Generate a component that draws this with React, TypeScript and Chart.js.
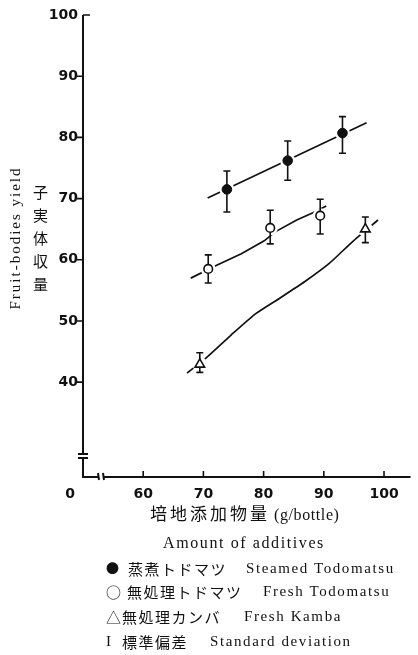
import React, { useEffect, useRef } from "react";
import { Chart, registerables } from "chart.js";
Chart.register(...registerables);

const INK = "#111";

const yTicks = [40, 50, 60, 70, 80, 90, 100];
const xTicks = [60, 70, 80, 90, 100];
const originLabel = "0";

// 蒸煮トドマツ Steamed Todomatsu
const steamedX = [73.9, 84.0, 93.1];
const steamedY = [71.5, 76.2, 80.7];
const steamedLow = [67.8, 73.0, 77.4];
const steamedHigh = [74.5, 79.4, 83.4];
const steamedFitX = [70.7, 97.1];
const steamedFitY = [70.1, 82.4];

// 無処理トドマツ Fresh Todomatsu
const freshX = [70.8, 81.1, 89.4];
const freshY = [58.5, 65.2, 67.2];
const freshLow = [56.2, 62.6, 64.2];
const freshHigh = [60.8, 68.1, 69.9];
const freshFitX = [67.9, 72.2, 76.3, 80.1, 82.0, 85.5, 88.2, 90.4];
const freshFitY = [57.0, 59.1, 61.0, 63.1, 64.6, 66.5, 67.7, 68.8];

// 無処理カンバ Fresh Kamba
const kambaX = [69.4, 96.9];
const kambaY = [42.9, 65.0];
const kambaLow = [41.6, 62.8];
const kambaHigh = [44.8, 67.0];
const kambaFitX = [67.3, 70.6, 74.6, 78.7, 82.8, 86.8, 90.9, 94.7, 99.0];
const kambaFitY = [41.5, 44.1, 47.7, 51.2, 53.8, 56.4, 59.4, 62.9, 66.5];

const yTitleEn = "Fruit-bodies yield";
const yTitleJa = "子実体収量";
const xTitleJa = "培地添加物量";
const xTitleUnit = "(g/bottle)";
const xTitleEn = "Amount of additives";
const legendSymbols = ["●", "○", "△", "I"];
const legendJa = ["蒸煮トドマツ", "無処理トドマツ", "無処理カンバ", "標準偏差"];
const legendEn = ["Steamed Todomatsu", "Fresh Todomatsu", "Fresh Kamba", "Standard deviation"];

const pts = (xs: number[], ys: number[]) => xs.map((x, i) => ({ x, y: ys[i] }));

const errorSeries = [
  { x: steamedX, low: steamedLow, high: steamedHigh },
  { x: freshX, low: freshLow, high: freshHigh },
  { x: kambaX, low: kambaLow, high: kambaHigh },
];

const paperPlugin = {
  id: "paper",
  afterDatasetDraw(chart: any, args: any) {
    const ds = chart.data.datasets[args.index];
    if (!ds.isHalo) return;
    const ctx = chart.ctx;
    const xs = chart.scales.x;
    const ys = chart.scales.y;
    ctx.save();
    ctx.strokeStyle = INK;
    ctx.lineWidth = 1.6;
    errorSeries.forEach((s) => {
      s.x.forEach((xv, i) => {
        const px = xs.getPixelForValue(xv);
        const t = ys.getPixelForValue(s.high[i]);
        const b = ys.getPixelForValue(s.low[i]);
        ctx.beginPath();
        ctx.moveTo(px, t);
        ctx.lineTo(px, b);
        ctx.moveTo(px - 3.5, t);
        ctx.lineTo(px + 3.5, t);
        ctx.moveTo(px - 3.5, b);
        ctx.lineTo(px + 3.5, b);
        ctx.stroke();
      });
    });
    ctx.restore();
  },
  afterDraw(chart: any) {
    const ctx = chart.ctx;
    const { left, right, top, bottom } = chart.chartArea;
    const xs = chart.scales.x;
    const ys = chart.scales.y;
    ctx.save();
    ctx.strokeStyle = INK;
    ctx.lineWidth = 2;
    ctx.lineCap = "butt";
    ctx.beginPath();
    // y axis with break
    ctx.moveTo(left, top);
    ctx.lineTo(left, bottom - 23);
    ctx.moveTo(left - 5, bottom - 23);
    ctx.lineTo(left + 5, bottom - 23);
    ctx.moveTo(left - 5, bottom - 19);
    ctx.lineTo(left + 5, bottom - 19);
    ctx.moveTo(left, bottom - 19);
    ctx.lineTo(left, bottom);
    // x axis with break
    ctx.moveTo(left - 1, bottom);
    ctx.lineTo(left + 15, bottom);
    ctx.moveTo(left + 21, bottom);
    ctx.lineTo(right, bottom);
    ctx.moveTo(left + 15, bottom - 4);
    ctx.lineTo(left + 16, bottom + 3);
    ctx.moveTo(left + 20, bottom - 4);
    ctx.lineTo(left + 21, bottom + 3);
    ctx.stroke();
    // y ticks
    ctx.lineWidth = 1.6;
    ctx.beginPath();
    yTicks.forEach((v) => {
      const py = ys.getPixelForValue(v);
      if (v === 100) {
        ctx.moveTo(left, py);
        ctx.lineTo(left + 7, py);
      } else {
        ctx.moveTo(left - 6, py);
        ctx.lineTo(left, py);
      }
    });
    xTicks.forEach((v) => {
      const px = xs.getPixelForValue(v);
      ctx.moveTo(px, bottom);
      ctx.lineTo(px, bottom - 6);
    });
    ctx.stroke();
    ctx.restore();
  },
};

export default function App() {
  const ref = useRef<HTMLCanvasElement | null>(null);
  useEffect(() => {
    if (!ref.current) return;
    const lineBase = {
      type: "line" as const,
      showLine: true,
      pointRadius: 0,
      borderColor: INK,
      borderWidth: 1.7,
      fill: false,
      order: 3,
    };
    const chart = new Chart(ref.current, {
      type: "scatter",
      data: {
        datasets: [
          { ...lineBase, label: "steamed fit", data: pts(steamedFitX, steamedFitY), tension: 0 },
          { ...lineBase, label: "fresh fit", data: pts(freshFitX, freshFitY), tension: 0 },
          { ...lineBase, label: "kamba fit", data: pts(kambaFitX, kambaFitY), tension: 0.2 },
          {
            label: "halo",
            isHalo: true,
            data: [...pts(steamedX, steamedY), ...pts(freshX, freshY), ...pts(kambaX, kambaY)],
            pointRadius: 7.5,
            pointBackgroundColor: "#fff",
            pointBorderWidth: 0,
            pointBorderColor: "#fff",
            order: 2,
          } as any,
          {
            label: "蒸煮トドマツ Steamed Todomatsu",
            data: pts(steamedX, steamedY),
            pointStyle: "circle",
            pointRadius: 4.8,
            pointBackgroundColor: INK,
            pointBorderColor: INK,
            pointBorderWidth: 1,
            order: 1,
          },
          {
            label: "無処理トドマツ Fresh Todomatsu",
            data: pts(freshX, freshY),
            pointStyle: "circle",
            pointRadius: 4.3,
            pointBackgroundColor: "#fff",
            pointBorderColor: INK,
            pointBorderWidth: 1.6,
            order: 1,
          },
          {
            label: "無処理カンバ Fresh Kamba",
            data: pts(kambaX, kambaY),
            pointStyle: "triangle",
            pointRadius: 5.5,
            pointBackgroundColor: "#fff",
            pointBorderColor: INK,
            pointBorderWidth: 1.6,
            order: 1,
          },
        ],
      },
      options: {
        responsive: false,
        maintainAspectRatio: false,
        animation: false,
        devicePixelRatio: 1,
        layout: { padding: { top: 15, right: 0, bottom: 0, left: 0 } },
        plugins: { legend: { display: false }, tooltip: { enabled: false } },
        scales: {
          x: {
            type: "linear",
            min: 50,
            max: 104.4,
            grid: { display: false, drawTicks: false },
            border: { display: false },
            afterBuildTicks: (s: any) => {
              s.ticks = xTicks.map((v) => ({ value: v }));
            },
            afterFit: (s: any) => {
              s.height = 178;
            },
            ticks: {
              color: INK,
              padding: 9,
              maxRotation: 0,
              font: { family: "'DejaVu Sans'", size: 14, weight: "bold" },
            },
          },
          y: {
            type: "linear",
            min: 24.5,
            max: 100,
            grid: { display: false, drawTicks: false },
            border: { display: false },
            afterBuildTicks: (s: any) => {
              s.ticks = yTicks.map((v) => ({ value: v }));
            },
            afterFit: (s: any) => {
              s.width = 83;
            },
            ticks: {
              color: INK,
              padding: 5,
              font: { family: "'DejaVu Sans'", size: 14, weight: "bold" },
            },
          },
        },
      },
      plugins: [paperPlugin],
    });
    return () => chart.destroy();
  }, []);

  const serif = "'Liberation Serif', 'DejaVu Serif', serif";
  const cjk = "'Noto Sans CJK JP', sans-serif";
  const rowY = [569, 592, 617, 642];
  const jaLeft = [128, 127, 122, 122];
  const enLeft = [246, 263, 244, 210];

  const abs = (extra: React.CSSProperties): React.CSSProperties => ({
    position: "absolute",
    whiteSpace: "nowrap",
    color: INK,
    lineHeight: 1,
    ...extra,
  });

  return (
    <div style={{ position: "absolute", left: 0, top: 0, width: 418, height: 655, background: "#fff", overflow: "hidden" }}>
      <canvas ref={ref} width={418} height={655} style={{ position: "absolute", left: 0, top: 0 }} />
      <div
        style={abs({
          left: 15,
          top: 238,
          transform: "translate(-50%, -50%) rotate(-90deg)",
          fontFamily: serif,
          fontSize: 15,
          letterSpacing: "2px",
        })}
      >
        {yTitleEn}
      </div>
      <div
        style={abs({
          left: 33,
          top: 185,
          writingMode: "vertical-rl",
          fontFamily: cjk,
          fontSize: 15,
          letterSpacing: "8px",
        })}
      >
        {yTitleJa}
      </div>
      <div style={abs({ left: 70, top: 486, transform: "translateX(-50%)", fontFamily: "'DejaVu Sans'", fontWeight: "bold", fontSize: 14 })}>
        {originLabel}
      </div>
      <div style={abs({ left: 150, top: 504 })}>
        <span style={{ fontFamily: cjk, fontSize: 17, letterSpacing: "3px" }}>{xTitleJa}</span>
        <span style={{ fontFamily: serif, fontSize: 16, letterSpacing: "0.6px", marginLeft: 4 }}>{xTitleUnit}</span>
      </div>
      <div style={abs({ left: 163, top: 535, fontFamily: serif, fontSize: 16, letterSpacing: "1.6px" })}>
        {xTitleEn}
      </div>
      {legendSymbols.map((sym, i) => (
        <React.Fragment key={i}>
          <div style={abs({ left: 106, top: rowY[i] - 8, fontFamily: i === 3 ? serif : cjk, fontSize: i === 0 ? 13 : 15 })}>{sym}</div>
          <div style={abs({ left: jaLeft[i], top: rowY[i] - 8, fontFamily: cjk, fontSize: 15, letterSpacing: "1.5px" })}>
            {legendJa[i]}
          </div>
          <div style={abs({ left: enLeft[i], top: rowY[i] - 8, fontFamily: serif, fontSize: 15, letterSpacing: "1.6px" })}>
            {legendEn[i]}
          </div>
        </React.Fragment>
      ))}
    </div>
  );
}
